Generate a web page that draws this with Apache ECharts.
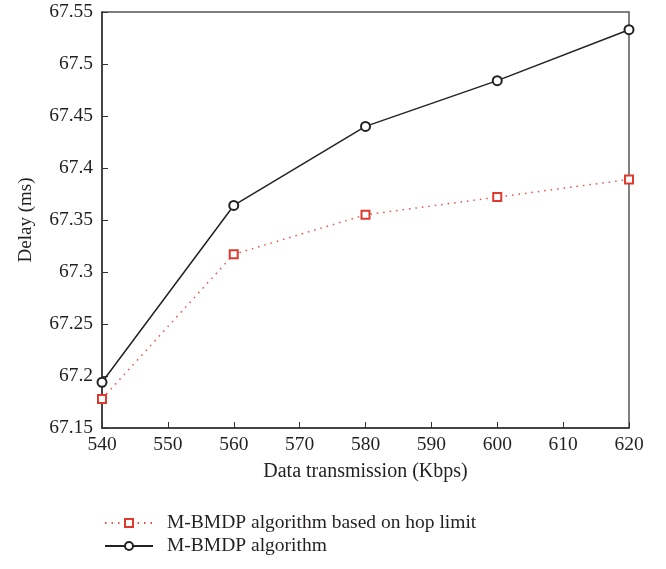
<!DOCTYPE html>
<html>
<head>
<meta charset="utf-8">
<script src="https://cdn.jsdelivr.net/npm/echarts@6/dist/echarts.min.js"></script>
<style>html,body{margin:0;padding:0;background:#fff}#c{width:666px;height:569px}</style>
</head>
<body>
<div id="c"></div>
<script>
const categories = [540, 560, 580, 600, 620];
const hopLimit = [67.178, 67.317, 67.355, 67.372, 67.389];
const mbmdp = [67.194, 67.364, 67.440, 67.484, 67.533];
const seriesNames = ['M-BMDP algorithm based on hop limit', 'M-BMDP algorithm'];

const font = 'Liberation Serif';
const chart = echarts.init(document.getElementById('c'));
chart.setOption({
  animation: false,
  backgroundColor: '#fff',
  textStyle: { fontFamily: font },
  grid: { left: 102, right: 37, top: 12, bottom: 141, show: true, borderColor: '#555', borderWidth: 1.5, backgroundColor: 'transparent' },
  xAxis: {
    type: 'value', min: 540, max: 620, interval: 10,
    name: 'Data transmission (Kbps)', nameLocation: 'middle', nameGap: 34,
    nameTextStyle: { fontFamily: font, fontSize: 20, color: '#231f20' },
    axisLine: { lineStyle: { color: '#333', width: 1.5 } },
    axisTick: { inside: true, length: 6, lineStyle: { color: '#333' } },
    axisLabel: { fontFamily: font, fontSize: 19.5, color: '#231f20', margin: 7 },
    splitLine: { show: false }
  },
  yAxis: {
    type: 'value', min: 67.15, max: 67.55, interval: 0.05,
    name: 'Delay (ms)', nameLocation: 'middle', nameGap: 66, nameRotate: 90,
    nameTextStyle: { fontFamily: font, fontSize: 19, color: '#231f20' },
    axisLine: { lineStyle: { color: '#333', width: 1.5 } },
    axisTick: { inside: true, length: 6, lineStyle: { color: '#333' } },
    axisLabel: { fontFamily: font, fontSize: 19.5, color: '#231f20', margin: 9,
      formatter: v => String(Math.round(v * 100) / 100) },
    splitLine: { show: false }
  },
  legend: {
    orient: 'vertical', left: 99, top: 508, itemGap: 3, itemWidth: 48, itemHeight: 10,
    textStyle: { fontFamily: font, fontSize: 19.5, color: '#231f20', padding: [0, 0, 0, 9] },
    data: seriesNames
  },
  series: [
    {
      name: seriesNames[0], type: 'line',
      data: categories.map((c, i) => [c, hopLimit[i]]),
      symbol: 'emptyRect', symbolSize: 8,
      lineStyle: { color: '#e8514a', width: 1.5, type: [1.5, 5] },
      itemStyle: { color: '#e03a2e', borderColor: '#e03a2e', borderWidth: 1.5 },
      clip: false
    },
    {
      name: seriesNames[1], type: 'line',
      data: categories.map((c, i) => [c, mbmdp[i]]),
      symbol: 'emptyCircle', symbolSize: 9,
      lineStyle: { color: '#222', width: 1.5 },
      itemStyle: { color: '#222', borderColor: '#222', borderWidth: 1.2 },
      clip: false
    }
  ]
});
</script>
</body>
</html>
